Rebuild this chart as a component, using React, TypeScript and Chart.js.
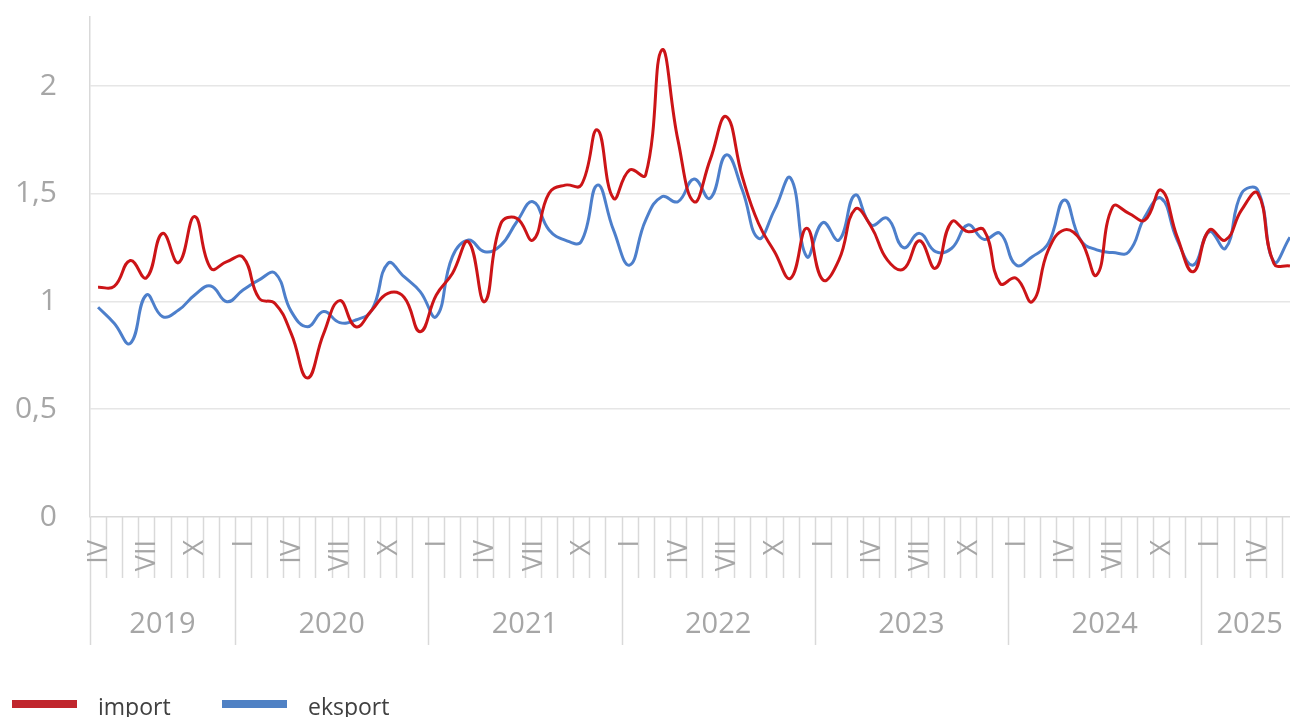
import React, { useEffect, useRef } from 'react';
import { Chart, registerables } from 'chart.js';

Chart.register(...registerables);

const MONTHS_ROMAN = ['I', 'II', 'III', 'IV', 'V', 'VI', 'VII', 'VIII', 'IX', 'X', 'XI', 'XII'];
const SHOWN_MONTHS = ['I', 'IV', 'VII', 'X'];
const START_YEAR = 2019;
const START_MONTH = 3; // April
const MONTH_COUNT = 75; // IV 2019 .. VI 2025
const Y_TICKS = [0, 0.5, 1, 1.5, 2];
const Y_MAX = 2.32;

const importValues = [
  1.066, 1.07, 1.19, 1.11, 1.316, 1.18, 1.394, 1.154, 1.185,
  1.205, 1.015, 0.99, 0.85, 0.645, 0.85, 1.004, 0.883, 0.96, 1.038, 1.02, 0.86,
  1.03, 1.13, 1.277, 0.999, 1.36, 1.386, 1.285, 1.502, 1.54, 1.54, 1.796, 1.479,
  1.61, 1.587, 2.167, 1.75, 1.463, 1.657, 1.858, 1.579, 1.363, 1.231, 1.108, 1.34,
  1.1, 1.193, 1.428, 1.347, 1.193, 1.15, 1.282, 1.154, 1.37, 1.324, 1.332, 1.084,
  1.108, 0.999, 1.239, 1.332, 1.285, 1.123, 1.44, 1.409, 1.378, 1.517, 1.3, 1.138,
  1.332, 1.285, 1.425, 1.502, 1.177, 1.165,
];

const exportValues = [
  0.973, 0.899, 0.806, 1.03, 0.93, 0.96, 1.03, 1.072, 0.999,
  1.053, 1.1, 1.131, 0.953, 0.883, 0.953, 0.902, 0.914, 0.96, 1.177, 1.115, 1.046,
  0.93, 1.208, 1.285, 1.231, 1.26, 1.37, 1.463, 1.332, 1.285, 1.278, 1.54, 1.332,
  1.169, 1.378, 1.486, 1.463, 1.568, 1.479, 1.68, 1.517, 1.293, 1.425, 1.572, 1.208,
  1.366, 1.285, 1.494, 1.355, 1.386, 1.25, 1.316, 1.231, 1.247, 1.355, 1.288, 1.316,
  1.169, 1.208, 1.27, 1.471, 1.285, 1.239, 1.227, 1.231, 1.394, 1.479, 1.285, 1.169,
  1.324, 1.247, 1.502, 1.517, 1.185, 1.298,
];

const categories = Array.from({ length: MONTH_COUNT }, (_, i) => {
  const m = (START_MONTH + i) % 12;
  const y = START_YEAR + Math.floor((START_MONTH + i) / 12);
  return `${MONTHS_ROMAN[m]} ${y}`;
});

const GREY = '#a6a6a6';
const LINE_GREY = '#d9d9d9';
const FONT = '"Open Sans", "Noto Sans", sans-serif';

const axisPlugin = {
  id: 'twoLevelAxis',
  afterDraw(chart: any) {
    const ctx = chart.ctx as CanvasRenderingContext2D;
    const xs = chart.scales.x;
    const ys = chart.scales.y;
    const area = chart.chartArea;
    const labels: string[] = chart.data.labels;
    const n = labels.length;
    const cw = xs.getPixelForValue(1) - xs.getPixelForValue(0);
    const base = area.bottom;
    ctx.save();
    // y labels
    ctx.fillStyle = GREY;
    ctx.font = `30px ${FONT}`;
    ctx.textAlign = 'right';
    ctx.textBaseline = 'middle';
    Y_TICKS.forEach((v) => {
      ctx.fillText(String(v).replace('.', ','), area.left - 33, ys.getPixelForValue(v));
    });
    // boundary ticks
    ctx.strokeStyle = LINE_GREY;
    ctx.lineWidth = 1.5;
    for (let i = 0; i <= n; i++) {
      const bx = Math.round(xs.getPixelForValue(i) - cw / 2) + 0.5;
      const isYear = i === 0 || (i < n && labels[i].startsWith('I '));
      ctx.beginPath();
      ctx.moveTo(bx, base);
      ctx.lineTo(bx, isYear ? base + 128 : base + 61);
      ctx.stroke();
    }
    // month labels
    ctx.fillStyle = GREY;
    ctx.font = `27px ${FONT}`;
    for (let i = 0; i < n; i++) {
      const roman = labels[i].split(' ')[0];
      if (!SHOWN_MONTHS.includes(roman)) continue;
      const px = xs.getPixelForValue(i);
      ctx.save();
      ctx.translate(px + 1, base + 23);
      ctx.rotate(-Math.PI / 2);
      ctx.textAlign = 'right';
      ctx.textBaseline = 'middle';
      ctx.fillText(roman, 0, 0);
      ctx.restore();
    }
    // year labels
    const years: Record<string, number[]> = {};
    labels.forEach((l, i) => {
      const y = l.split(' ')[1];
      (years[y] = years[y] || []).push(i);
    });
    ctx.font = `29px ${FONT}`;
    ctx.textAlign = 'center';
    ctx.textBaseline = 'middle';
    Object.keys(years).forEach((y) => {
      const idx = years[y];
      const cx = (xs.getPixelForValue(idx[0]) + xs.getPixelForValue(idx[idx.length - 1])) / 2;
      ctx.fillText(y, cx, base + 108);
    });
    // legend
    const legendX = [12, 222];
    chart.data.datasets.forEach((ds: any, k: number) => {
      ctx.fillStyle = ds.legendColor;
      ctx.fillRect(legendX[k], 700, 65, 8);
      ctx.fillStyle = '#404040';
      ctx.font = `23px ${FONT}`;
      ctx.textAlign = 'left';
      ctx.textBaseline = 'alphabetic';
      ctx.fillText(ds.label, legendX[k] + 86, 715);
    });
    ctx.restore();
  },
};

export default function App() {
  const ref = useRef<HTMLCanvasElement>(null);
  useEffect(() => {
    if (!ref.current) return;
    const chart = new Chart(ref.current, {
      type: 'line',
      data: {
        labels: categories,
        datasets: [
          {
            label: 'import',
            data: importValues,
            borderColor: '#cc1417',
            legendColor: '#c0262d',
            borderWidth: 3,
            pointRadius: 0,
            tension: 0.45,
            fill: false,
          } as any,
          {
            label: 'eksport',
            data: exportValues,
            borderColor: '#4d7fcb',
            legendColor: '#4f81c4',
            borderWidth: 3,
            pointRadius: 0,
            tension: 0.45,
            fill: false,
          } as any,
        ],
      },
      options: {
        animation: false,
        responsive: false,
        layout: { padding: { top: 17, bottom: 200, left: 0, right: 0 } },
        plugins: { legend: { display: false }, tooltip: { enabled: false } },
        scales: {
          x: {
            type: 'category',
            offset: true,
            display: false,
          },
          y: {
            min: 0,
            max: Y_MAX,
            afterBuildTicks: (scale: any) => {
              scale.ticks = Y_TICKS.map((v) => ({ value: v }));
            },
            afterFit: (scale: any) => {
              scale.width = 90;
            },
            grid: {
              drawTicks: false,
              lineWidth: 1.5,
              color: (c: any) => (c.tick && c.tick.value === 0 ? LINE_GREY : '#e6e6e6'),
            },
            border: { color: LINE_GREY, width: 1.5 },
            ticks: { display: false },
          },
        },
      },
      plugins: [axisPlugin],
    });
    return () => chart.destroy();
  }, []);
  return (
    <div style={{ position: 'fixed', left: 0, top: 0, width: 1298, height: 717, background: '#fff' }}>
      <canvas ref={ref} width={1298} height={717} style={{ width: 1298, height: 717, display: 'block' }} />
    </div>
  );
}
